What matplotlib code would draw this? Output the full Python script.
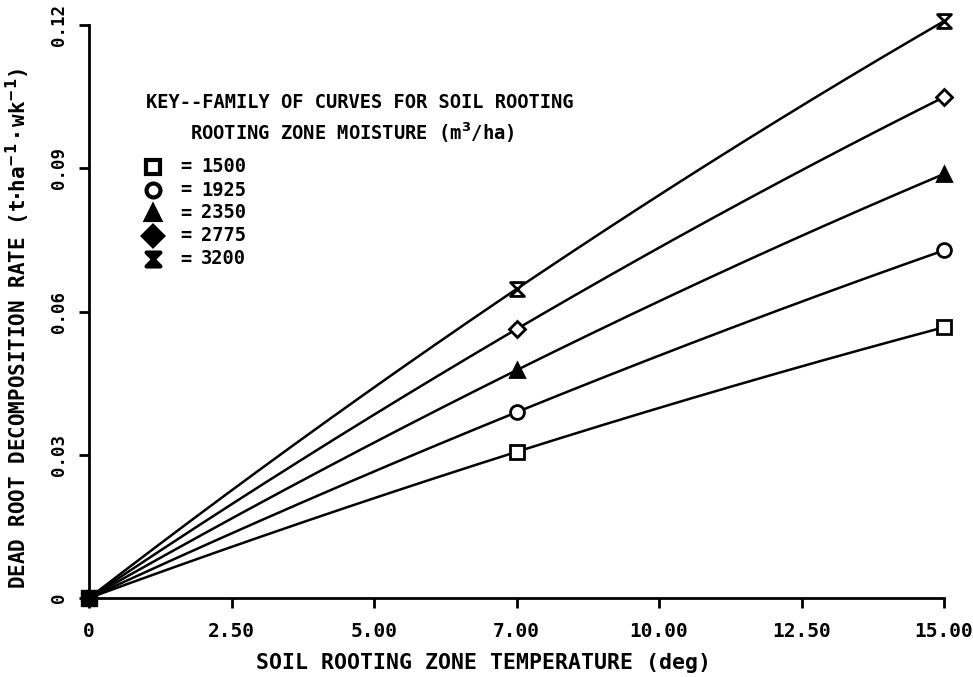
import numpy as np
import matplotlib
matplotlib.use("Agg")
import matplotlib.pyplot as plt
from matplotlib.path import Path
from matplotlib.lines import Line2D

# soil temperature (deg) at the plotted points
temps = [0.0, 7.5, 15.0]
moisture = ["1500", "1925", "2350", "2775", "3200"]
rate_1500 = [0.0, 0.0306, 0.0567]
rate_1925 = [0.0, 0.0389, 0.0728]
rate_2350 = [0.0, 0.0477, 0.0888]
rate_2775 = [0.0, 0.0563, 0.1049]
rate_3200 = [0.0, 0.0647, 0.1208]

xticks = [0, 2.5, 5.0, 7.5, 10.0, 12.5, 15.0]
xticklabels = ["0", "2.50", "5.00", "7.00", "10.00", "12.50", "15.00"]
yticks = [0, 0.03, 0.06, 0.09, 0.12]
yticklabels = ["0", "0.03", "0.06", "0.09", "0.12"]

plt.rcParams["font.family"] = ["DejaVu Sans Mono", "DejaVu Sans"]
plt.rcParams["font.weight"] = "bold"
plt.rcParams["axes.labelweight"] = "bold"
plt.rcParams["mathtext.default"] = "bf"

W, H = 973, 677


def px(x, y):
    # reference pixel position -> figure fraction
    return x / W, 1 - y / H


hourglass = Path([(-1, 1), (1, 1), (-1, -1), (1, -1), (-1, 1)],
                 [Path.MOVETO, Path.LINETO, Path.LINETO, Path.LINETO, Path.CLOSEPOLY])
styles = [("s", "white", 10), ("o", "white", 10), ("^", "black", 10),
          ("D", "white", 8), (hourglass, "white", 10)]
key_faces = ["white", "white", "black", "black", "black"]

fig = plt.figure(figsize=(W / 100, H / 100), dpi=100)
ax = fig.add_axes([89 / W, 1 - 598 / H, (944 - 89) / W, (598 - 25) / H])

series = [rate_1500, rate_1925, rate_2350, rate_2775, rate_3200]
xs = np.linspace(0, 15, 200)
for vals, (mk, fc, ms) in zip(series, styles):
    c = np.polyfit(temps, vals, 2)
    ax.plot(xs, np.polyval(c, xs), color="black", lw=1.8, clip_on=False)
    ax.plot(temps[1:], vals[1:], ls="none", marker=mk, ms=ms, mfc=fc,
            mec="black", mew=2, clip_on=False, zorder=5)

ax.plot([0], [0], marker="s", ms=11, color="black", clip_on=False, zorder=6)

ax.set_xlim(0, 15)
ax.set_ylim(0, 0.12)
for s in ["top", "right"]:
    ax.spines[s].set_visible(False)
for s in ["left", "bottom"]:
    ax.spines[s].set_linewidth(2)
ax.tick_params(width=2, length=7)
ax.tick_params(axis="x", labelsize=14, pad=10)
ax.tick_params(axis="y", labelsize=12.5, pad=8)
ax.set_xticks(xticks)
ax.set_xticklabels(xticklabels)
ax.set_yticks(yticks)
ax.set_yticklabels(yticklabels, rotation=90, va="center")

ax.set_xlabel("SOIL ROOTING ZONE TEMPERATURE (deg)", fontsize=15.5, va="center")
ax.xaxis.set_label_coords((483 - 89) / 855, (598 - 663) / 573)
ax.set_ylabel(r"DEAD ROOT DECOMPOSITION RATE (t$\cdot$ha$^{-1}\cdot$wk$^{-1}$)",
              fontsize=15, va="center")
ax.yaxis.set_label_coords((18 - 89) / 855, (598 - 328) / 573)

# key
fig.text(*px(146, 103), "KEY--FAMILY OF CURVES FOR SOIL ROOTING",
         fontsize=13.5, va="center", ha="left")
fig.text(*px(190, 133), "ROOTING ZONE MOISTURE (m$^3$/ha)",
         fontsize=13.5, va="center", ha="left")
rows = [167, 190, 213, 236, 259]
for m, y, (mk, fc, ms), kf in zip(moisture, rows, styles, key_faces):
    fig.add_artist(Line2D([px(153, y)[0]], [px(153, y)[1]], ls="none",
                          marker=mk, ms=10, mfc=kf, mec="black", mew=3))
    fig.text(*px(180, y), "=", fontsize=13.5, va="center", ha="left")
    fig.text(*px(201, y), m, fontsize=13.5, va="center", ha="left")

fig.savefig("out.png", dpi=100)
